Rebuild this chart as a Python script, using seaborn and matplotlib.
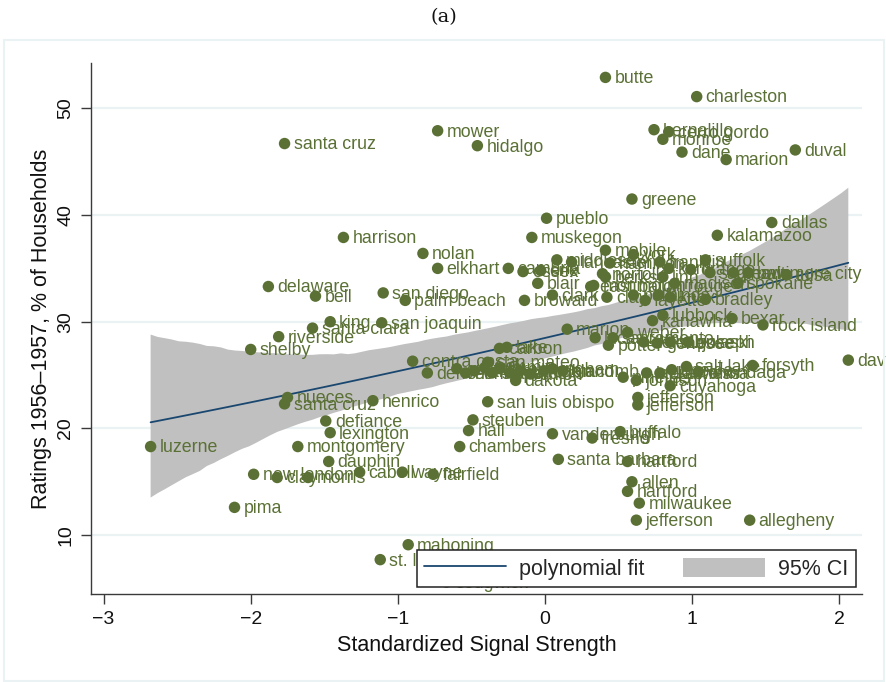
import numpy as np
import pandas as pd
import matplotlib
matplotlib.use("Agg")
import matplotlib.pyplot as plt
import seaborn as sns
from matplotlib.lines import Line2D
from matplotlib.patches import Patch, Rectangle

# ---------------- data ----------------
names = [
    "butte", "charleston", "santa cruz", "mower", "hidalgo", "bernalillo", "cerro gordo", "monroe",
    "dane", "marion", "duval", "greene", "pueblo", "muskegon", "dallas", "kalamazoo",
    "harrison", "nolan", "elkhart", "mobile", "delaware", "bell", "san diego", "palm beach",
    "king", "santa clara", "san joaquin", "riverside", "shelby", "broward", "clark", "blair",
    "east baton rouge", "clay", "cambria", "essex", "erie", "middlesex", "lancaster", "york",
    "franklin", "suffolk", "hamilton", "norfolk", "kent", "orange", "saginaw", "peoria",
    "baltimore city", "tulsa", "spokane", "monmouth", "berks", "linn", "madison", "polk",
    "fayette", "hinds", "knox", "bradley", "kanawha", "lubbock", "bexar", "rock island",
    "marion", "sacramento", "lucas", "potter", "dekalb", "pulaski", "st. joseph", "genesee",
    "weber", "pinellas", "lackawanna", "johnson", "dutchess", "oneida", "salt lake", "onondaga",
    "forsyth", "cuyahoga", "jefferson", "jefferson", "davidson", "denver", "contra costa", "guilford",
    "hennepin", "ramsey", "summit", "stark", "lorain", "mercer", "camden", "union",
    "oakland", "ingham", "macomb", "san mateo", "carbon", "lake", "dakota", "san luis obispo",
    "steuben", "hall", "chambers", "vanderburgh", "santa barbara", "fresno", "buffalo", "hartford",
    "allen", "hartford", "milwaukee", "jefferson", "allegheny", "mahoning", "st. louis", "sedgwick",
    "luzerne", "pima", "nueces", "santa cruz", "henrico", "defiance", "lexington", "montgomery",
    "dauphin", "new london", "clay", "morris", "cabell", "wayne", "fairfield",
]
signal = [
    0.41, 1.03, -1.77, -0.73, -0.46, 0.74, 0.84, 0.80,
    0.93, 1.23, 1.70, 0.59, 0.01, -0.09, 1.54, 1.17,
    -1.37, -0.83, -0.73, 0.41, -1.88, -1.56, -1.10, -0.95,
    -1.46, -1.58, -1.11, -1.81, -2.00, -0.14, 0.05, -0.05,
    0.31, 0.42, -0.25, -0.15, -0.03, 0.08, 0.18, 0.60,
    0.78, 1.09, 0.44, 0.39, 0.84, 0.99, 1.12, 1.28,
    1.38, 1.64, 1.31, 0.33, 0.41, 0.80, 0.88, 0.60,
    0.68, 0.77, 0.85, 1.09, 0.73, 0.80, 1.27, 1.48,
    0.15, 0.46, 0.34, 0.43, 0.67, 0.97, 0.85, 0.76,
    0.56, 0.53, 0.69, 0.62, 0.78, 0.86, 0.96, 1.04,
    1.41, 0.85, 0.63, 0.63, 2.06, -0.80, -0.90, -0.60,
    -0.54, -0.48, -0.41, -0.36, -0.31, -0.24, -0.17, -0.10,
    -0.01, 0.05, 0.12, -0.39, -0.31, -0.26, -0.20, -0.39,
    -0.49, -0.52, -0.58, 0.05, 0.09, 0.32, 0.51, 0.56,
    0.59, 0.56, 0.64, 0.62, 1.39, -0.93, -1.12, -0.67,
    -2.68, -2.11, -1.75, -1.77, -1.17, -1.49, -1.46, -1.68,
    -1.47, -1.98, -1.82, -1.61, -1.26, -0.97, -0.76,
]
ratings = [
    52.9, 51.1, 46.7, 47.9, 46.5, 48.0, 47.8, 47.1,
    45.9, 45.2, 46.1, 41.5, 39.7, 37.9, 39.3, 38.1,
    37.9, 36.4, 35.0, 36.7, 33.3, 32.4, 32.7, 32.0,
    30.0, 29.4, 29.9, 28.6, 27.4, 32.0, 32.5, 33.6,
    33.3, 32.3, 35.0, 34.7, 34.8, 35.8, 35.6, 36.3,
    35.6, 35.8, 35.5, 34.5, 35.0, 34.9, 34.6, 34.6,
    34.6, 34.4, 33.6, 33.4, 34.2, 34.2, 33.6, 32.5,
    32.0, 32.5, 32.3, 32.1, 30.1, 30.6, 30.3, 29.7,
    29.3, 28.5, 28.5, 27.8, 28.1, 28.1, 28.1, 28.0,
    29.0, 24.8, 25.2, 24.5, 25.2, 25.5, 25.8, 25.3,
    25.9, 24.0, 22.9, 22.2, 26.4, 25.2, 26.3, 25.6,
    25.2, 25.4, 25.7, 25.2, 25.6, 25.2, 25.4, 25.1,
    25.4, 25.6, 25.4, 26.2, 27.5, 27.6, 24.5, 22.5,
    20.8, 19.8, 18.3, 19.5, 17.1, 19.1, 19.7, 16.9,
    15.0, 14.1, 13.0, 11.4, 11.4, 9.1, 7.7, 5.6,
    18.3, 12.6, 22.9, 22.3, 22.6, 20.7, 19.6, 18.3,
    16.9, 15.7, 15.4, 15.4, 15.9, 15.9, 15.7,
]
x_ticks = [-3, -2, -1, 0, 1, 2]
y_ticks = [10, 20, 30, 40, 50]

df = pd.DataFrame({"name": names, "signal": signal, "rating": ratings})

GREEN = "#5a7034"
NAVY = "#1a476f"
BAND = "#c0c0c0"
GRID = "#eaf2f3"
AXC = "#3a3a3a"

sns.set_theme(style="white")
plt.rcParams["font.family"] = ["Liberation Sans", "DejaVu Sans"]

fig = plt.figure(figsize=(8.87, 6.82), dpi=100)
ax = fig.add_axes([91 / 887, 1 - 594 / 682, (862 - 91) / 887, (594 - 63) / 682])

sns.regplot(data=df, x="signal", y="rating", order=2, scatter=False, ci=95,
            n_boot=1000, seed=7, truncate=True, ax=ax,
            line_kws=dict(color=NAVY, lw=1.3, zorder=3))
for coll in ax.collections:
    coll.set_facecolor(BAND)
    coll.set_alpha(1)
    coll.set_edgecolor("none")
    coll.set_zorder(1)

sns.scatterplot(data=df, x="signal", y="rating", s=68, color=GREEN,
                edgecolor="none", linewidth=0, zorder=4, legend=False, ax=ax)
for n, xv, yv in zip(df["name"], df["signal"], df["rating"]):
    ax.annotate(n, (xv, yv), xytext=(6.5, -1), textcoords="offset points",
                ha="left", va="center", fontsize=12.8, color=GREEN,
                zorder=4, annotation_clip=False)

ax.set_xlim(-3.085, 2.153)
ax.set_ylim(4.48, 54.25)
ax.set_xticks(x_ticks)
ax.set_yticks(y_ticks)
ax.yaxis.grid(True, color=GRID, lw=1.6)
ax.xaxis.grid(False)
ax.set_axisbelow(True)
for s in ["top", "right"]:
    ax.spines[s].set_visible(False)
for s in ["left", "bottom"]:
    ax.spines[s].set_color(AXC)
    ax.spines[s].set_linewidth(1.0)
ax.tick_params(axis="both", bottom=True, left=True, direction="out", length=7,
               width=1, color=AXC, labelsize=14, labelcolor="#111111")
ax.tick_params(axis="x", pad=5)
ax.tick_params(axis="y", pad=5)
for lab in ax.get_yticklabels():
    lab.set_rotation(90)
    lab.set_va("center")

ax.set_xlabel("Standardized Signal Strength", fontsize=15.5, color="#111111", labelpad=5)
ax.set_ylabel("Ratings 1956–1957, % of Households", fontsize=15.5, color="#111111", labelpad=4)

handles = [Line2D([0], [0], color=NAVY, lw=1.3), Patch(facecolor=BAND, edgecolor="none")]
leg = ax.legend(handles, ["polynomial fit", "95% CI"], ncol=2, loc="lower right",
                bbox_to_anchor=(0.992, 0.013), fontsize=15.5, frameon=True, fancybox=False,
                edgecolor="#222222", framealpha=1, borderpad=0.35, handlelength=3.8,
                handleheight=1.0, handletextpad=0.6, columnspacing=1.8, borderaxespad=0)
leg.get_frame().set_linewidth(1.1)
leg.set_zorder(10)

fig.text(0.5, 1 - 17 / 682, "(a)", ha="center", va="center", fontsize=14,
         family=["DejaVu Serif"], color="#111111")
fig.patches.append(Rectangle((4 / 887, 1 - 681 / 682), (884 - 4) / 887, (681 - 40) / 682,
                             transform=fig.transFigure, fill=False, edgecolor=GRID, lw=1.5))

fig.savefig("out.png", dpi=100)
